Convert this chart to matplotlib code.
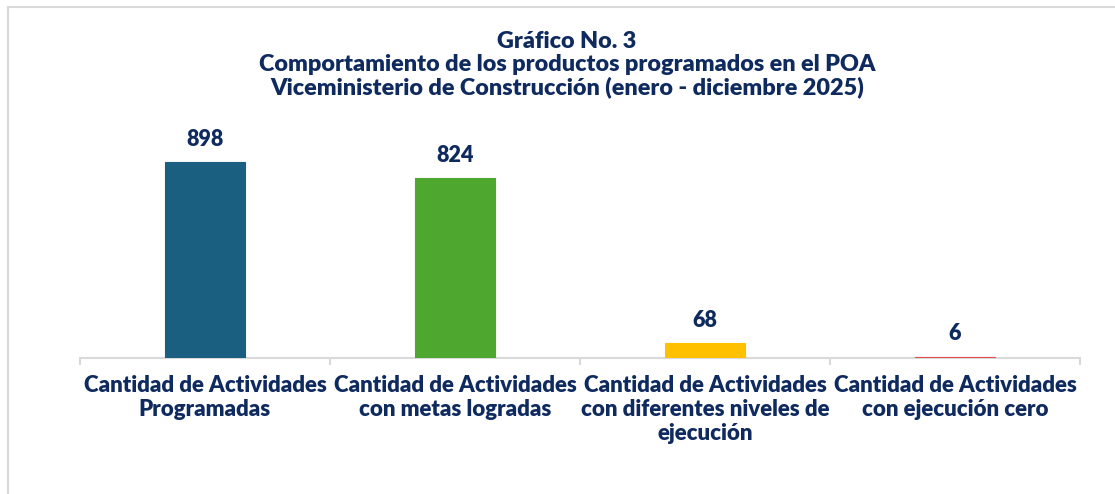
import matplotlib.pyplot as plt
from matplotlib.lines import Line2D

plt.rcParams['font.family'] = ['Lato', 'DejaVu Sans']

categories = [
    'Cantidad de Actividades\nProgramadas',
    'Cantidad de Actividades\ncon metas logradas',
    'Cantidad de Actividades\ncon diferentes niveles de\nejecución',
    'Cantidad de Actividades\ncon ejecución cero',
]
values = [898, 824, 68, 6]
colors = ['#1A5F80', '#4EA72E', '#FFC000', '#E04B4B']
title = ('Gráfico No. 3\n'
         'Comportamiento de los productos programados en el POA\n'
         'Viceministerio de Construcción (enero - diciembre 2025)')

NAVY = '#0F2A5F'
GRID = '#D9D9D9'
W = 'heavy'

fig = plt.figure(figsize=(11.15, 4.94), dpi=100)
ax = fig.add_axes([80 / 1115, 1 - 358 / 494, 1000 / 1115, 218 / 494])

x = range(len(values))
ax.bar(x, values, width=0.32, color=colors, edgecolor=colors, linewidth=0.8, zorder=3)
for xi, v in zip(x, values):
    ax.annotate(str(v), (xi, v), xytext=(0, 9), textcoords='offset points',
                ha='center', va='bottom', fontsize=15.5, fontweight=W, color=NAVY)

ax.set_xlim(-0.5, len(values) - 0.5)
ax.set_ylim(0, 1000)
ax.set_yticks([])
for s in ['top', 'right', 'left']:
    ax.spines[s].set_visible(False)
ax.spines['bottom'].set_color(GRID)
ax.spines['bottom'].set_linewidth(1.5)

ax.set_xticks(list(x))
ax.set_xticklabels(categories, fontsize=16, fontweight=W, color=NAVY,
                   linespacing=1.2, va='top')
ax.tick_params(axis='x', which='major', length=0, pad=12)
ax.set_xticks([i - 0.5 for i in range(len(values) + 1)], minor=True)
ax.tick_params(axis='x', which='minor', length=5, width=1.5, color=GRID, direction='out')

fig.text(567 / 1115, 1 - 31 / 494, title, ha='center', va='top', fontsize=16.8,
         fontweight=W, color=NAVY, linespacing=1.1)

# outer frame (only top and left edges are visible in the crop)
fig.add_artist(Line2D([8 / 1115, 8 / 1115], [0, 1 - 7 / 494], transform=fig.transFigure,
                      color=GRID, lw=1.5))
fig.add_artist(Line2D([8 / 1115, 1], [1 - 7 / 494, 1 - 7 / 494], transform=fig.transFigure,
                      color=GRID, lw=1.5))

fig.savefig('out.png', dpi=100)
